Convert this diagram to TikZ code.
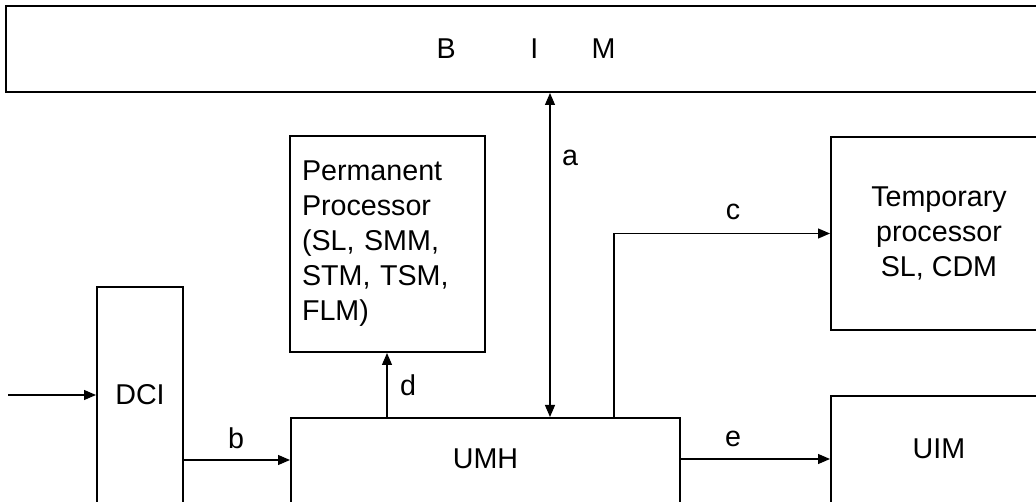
\documentclass[tikz,border=0pt]{standalone}
\usepackage{fontspec}
\setmainfont{Liberation Sans}
\usepackage{tikz}
\usetikzlibrary{arrows.meta,calc}

\begin{document}
\begin{tikzpicture}[x=0.75pt,y=-0.75pt,>={Triangle[length=9pt,width=7.5pt]},
    every node/.style={font=\fontsize{21.5pt}{26.25pt}\selectfont},
    box/.style={draw,line width=1.5pt,inner sep=0pt},
    wire/.style={line width=0.9pt}]
    \path[use as bounding box,clip] (0,0) rectangle (1036,502);
    % blocks (the open ones run off the page)
    \node[box,minimum width=780pt,minimum height=64.5pt] (bim) at (526,49) {B\hspace{56pt}I\hspace{40pt}M};
    \node[box,anchor=north west,minimum width=64.5pt,text height=88.5pt,text depth=150pt] (dci) at (96,286) {DCI};
    \node[box,anchor=north west,minimum width=291.75pt,text height=38.25pt,text depth=150pt] (umh) at (290,417) {UMH};
    \node[box,anchor=north west,minimum width=162pt,text height=46.5pt,text depth=150pt] (uim) at (830,395) {UIM};
    \node[box,anchor=north west,minimum width=162pt,minimum height=144.75pt,align=center] (temp) at (830,136) {Temporary\\processor\\SL, CDM};
    \node[box,anchor=north west,inner xsep=9pt,text width=128.25pt,minimum height=162pt,align=left] (perm) at (289,135)
        {Permanent\\Processor\\(SL, SMM,\\STM, TSM,\\FLM)};
    % links
    \coordinate (src) at (8,395);
    \draw[wire,->] (src) -- (src -| dci.west);
    \draw[wire,->] (dci.east |- 0,460) -- (umh.west |- 0,460);
    \draw[wire,<->] (bim.south -| 550,0) -- (umh.north -| 550,0);
    \draw[wire,->] (umh.north -| 387,0) -- (perm.south -| 387,0);
    \draw[wire,->] (umh.north -| 614,0) |- (temp.west);
    \draw[wire,->] (umh.east |- 0,459) -- (uim.west |- 0,459);
    \node (la) at (570,158) {a};
    \node (lb) at (236,438) {b};
    \node (lc) at (733,212) {c};
    \node (ld) at (408,385) {d};
    \node (le) at (733,439) {e};
\end{tikzpicture}
\end{document}
